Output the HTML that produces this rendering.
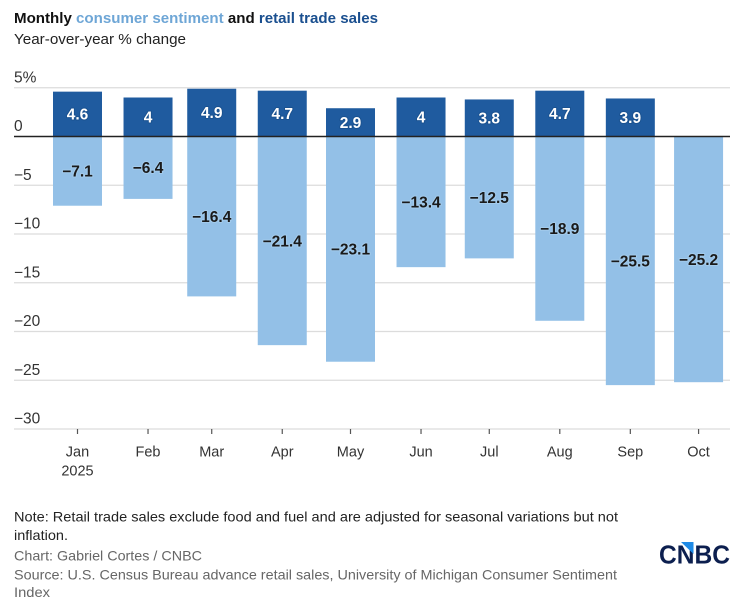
<!DOCTYPE html>
<html>
<head>
<meta charset="utf-8">
<style>
html,body{margin:0;padding:0;background:#fff;width:750px;height:616px;overflow:hidden}
svg{display:block;font-family:"Liberation Sans",sans-serif}
</style>
</head>
<body>
<svg id="chart" width="750" height="616" viewBox="0 0 750 616" xmlns="http://www.w3.org/2000/svg">
  <text x="14" y="23" font-size="15" font-weight="700" fill="#111" textLength="364" lengthAdjust="spacingAndGlyphs">Monthly <tspan fill="#6ea6d6">consumer sentiment</tspan> and <tspan fill="#1a4f8f">retail trade sales</tspan></text>
  <text x="14" y="44" font-size="15" fill="#222" textLength="172" lengthAdjust="spacingAndGlyphs">Year-over-year % change</text>
  <g id="grid"></g>
  <g id="bars"></g>
  <g id="axis"></g>
  <g id="labels"></g>
  <text x="14" y="521.5" font-size="14" fill="#222" textLength="604" lengthAdjust="spacingAndGlyphs">Note: Retail trade sales exclude food and fuel and are adjusted for seasonal variations but not</text>
  <text x="14" y="540" font-size="14" fill="#222" textLength="54" lengthAdjust="spacingAndGlyphs">inflation.</text>
  <text x="14" y="560.5" font-size="14" fill="#666" textLength="188" lengthAdjust="spacingAndGlyphs">Chart: Gabriel Cortes / CNBC</text>
  <text x="14" y="579.5" font-size="14" fill="#666" textLength="603" lengthAdjust="spacingAndGlyphs">Source: U.S. Census Bureau advance retail sales, University of Michigan Consumer Sentiment</text>
  <text x="14" y="597" font-size="14" fill="#666" textLength="36" lengthAdjust="spacingAndGlyphs">Index</text>
  <g>
    <text x="659" y="563.5" font-size="25.5" font-weight="700" fill="#0c1f4f" textLength="71" lengthAdjust="spacingAndGlyphs">CNBC</text>
    <polygon points="681,542 693.5,542 693.5,554" fill="#1e8ae6"></polygon>
  </g>
</svg>
<script>
var months = ["Jan","Feb","Mar","Apr","May","Jun","Jul","Aug","Sep","Oct"];
var monthIndex = [0,1,2,3,4,5,6,7,8,9];
var sentiment = [-7.1,-6.4,-16.4,-21.4,-23.1,-13.4,-12.5,-18.9,-25.5,-25.2];
var retail = [4.6,4,4.9,4.7,2.9,4,3.8,4.7,3.9,null];
var yTicks = [5,0,-5,-10,-15,-20,-25,-30];

var NS = "http://www.w3.org/2000/svg";
function y(v){ return 136.5 - v * 9.75; }
function x(m){ return 77.5 + 2.275 * (Date.UTC(2025,m,1) - Date.UTC(2025,0,1)) / 86400000; }
function fmt(v){ return (v < 0 ? "\u2212" : "") + Math.abs(v); }
function make(tag, parent, attrs, txt){
  var e = document.createElementNS(NS, tag);
  for (var k in attrs) e.setAttribute(k, attrs[k]);
  if (txt !== undefined) e.textContent = txt;
  parent.appendChild(e);
  return e;
}
var grid = document.getElementById("grid");
var bars = document.getElementById("bars");
var axis = document.getElementById("axis");
var labels = document.getElementById("labels");
var el;

yTicks.forEach(function(t){
  if (t !== 0) {
    el = make("line", grid, {x1:14, x2:730, y1:y(t), y2:y(t), stroke:"#dcdcdc", "stroke-width":1.2});
    
    
  }
  el = make("text", axis, {x:14, y:y(t)-5.5, "font-size":15.5, fill:"#333"}, fmt(t) + (t === 5 ? "%" : ""));
  
  
});

var W = 49;
monthIndex.forEach(function(m, i){
  var cx = x(m);
  var s = sentiment[i], r = retail[i];
  el = make("rect", bars, {x:cx-W/2, y:y(0), width:W, height:y(s)-y(0), fill:"#93c0e7"});
  
  
  if (r !== null) {
    el = make("rect", bars, {x:cx-W/2, y:y(r), width:W, height:y(0)-y(r), fill:"#1f5b9f"});
    
    
    el = make("text", labels, {x:cx, y:(y(r)+y(0))/2+5.5, "text-anchor":"middle", "font-size":15.5, "font-weight":700, fill:"#fff", stroke:"#1a5290", "stroke-width":2, "paint-order":"stroke", "stroke-linejoin":"round"}, fmt(r));
    
    
  }
  el = make("text", labels, {x:cx, y:(y(s)+y(0))/2+5.5, "text-anchor":"middle", "font-size":15.5, "font-weight":700, fill:"#1a1a1a", stroke:"#a3cbec", "stroke-width":2, "paint-order":"stroke", "stroke-linejoin":"round"}, fmt(s));
  
  
  el = make("line", axis, {x1:cx, x2:cx, y1:y(-30), y2:y(-30)+5, stroke:"#555", "stroke-width":1.2});
  
  
  el = make("text", axis, {x:cx, y:456.5, "text-anchor":"middle", "font-size":14.5, fill:"#333"}, months[i]);
  
  
});
el = make("text", axis, {x:x(0), y:475.5, "text-anchor":"middle", "font-size":14.5, fill:"#333"}, "2025");


el = make("line", axis, {x1:14, x2:730, y1:y(0), y2:y(0), stroke:"#222", "stroke-width":1.4});


</script>
</body>
</html>
